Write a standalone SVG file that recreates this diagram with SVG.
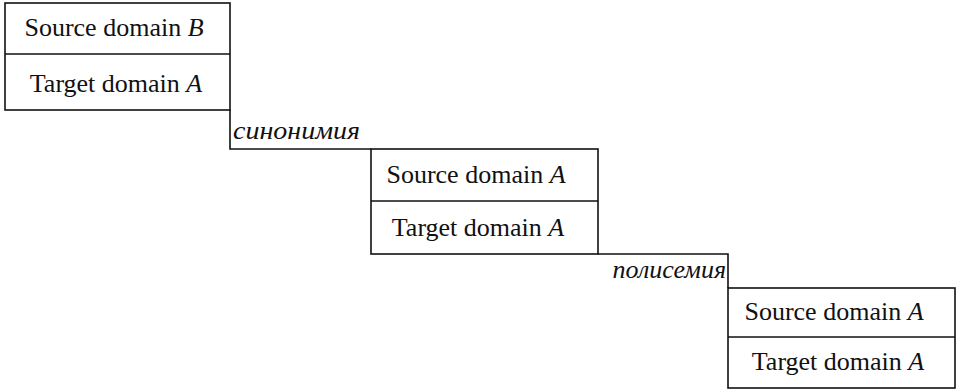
<svg xmlns="http://www.w3.org/2000/svg" width="961" height="389" viewBox="0 0 961 389">
<style>
.box{fill:#fff;stroke:#111;stroke-width:1.6}
.div{stroke:#111;stroke-width:1.6}
.t{font-family:"Liberation Serif","Times New Roman",serif;font-size:26px;fill:#111;text-anchor:middle}
.lbl{font-family:"Liberation Serif","Times New Roman",serif;font-size:26px;font-style:italic;fill:#111}
.con{fill:none;stroke:#111;stroke-width:1.6}
</style>
<rect width="961" height="389" fill="#fff"/>
<g id="connectors">
<path class="con" d="M230,110 V149 H371"/>
<path class="con" d="M598,254 H728 V288"/>
<text class="lbl" x="233" y="139" textLength="127" lengthAdjust="spacingAndGlyphs">синонимия</text>
<text class="lbl" x="726" y="278" text-anchor="end">полисемия</text>
</g>
<g id="node1">
<rect class="box" x="5" y="3" width="225" height="107"/>
<line class="div" x1="5" y1="54" x2="230" y2="54"/>
<text class="t" x="114" y="36">Source domain <tspan font-style="italic">B</tspan></text>
<text class="t" x="116" y="92">Target domain <tspan font-style="italic">A</tspan></text>
</g>
<g id="node2">
<rect class="box" x="371" y="149" width="227" height="105"/>
<line class="div" x1="371" y1="201" x2="598" y2="201"/>
<text class="t" x="476" y="183">Source domain <tspan font-style="italic">A</tspan></text>
<text class="t" x="478" y="236">Target domain <tspan font-style="italic">A</tspan></text>
</g>
<g id="node3">
<rect class="box" x="728" y="288" width="227" height="100"/>
<line class="div" x1="728" y1="337" x2="955" y2="337"/>
<text class="t" x="834" y="320">Source domain <tspan font-style="italic">A</tspan></text>
<text class="t" x="838" y="370">Target domain <tspan font-style="italic">A</tspan></text>
</g>
</svg>
